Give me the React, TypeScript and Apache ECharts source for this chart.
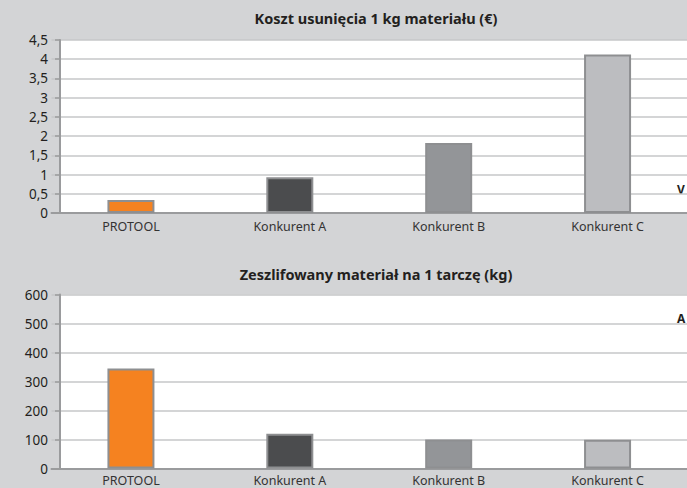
import React, { useEffect, useRef } from "react";
import * as echarts from "echarts";

const categories = ["PROTOOL", "Konkurent A", "Konkurent B", "Konkurent C"];
const costValues = [0.34, 0.93, 1.82, 4.12];
const materialValues = [345, 120, 100, 99];
const barColors = ["#f58220", "#4b4c4e", "#939598", "#bcbdc0"];
const costTitle = "Koszt usunięcia 1 kg materiału (€)";
const materialTitle = "Zeszlifowany materiał na 1 tarczę (kg)";

const FONT = "'Noto Sans', 'Liberation Sans', sans-serif";
const BG = "#d3d4d6";
const AXIS = "#9a9b9d";
const GRIDLINE = "#c6c7c9";

export default function App() {
  const ref = useRef<HTMLDivElement>(null);
  useEffect(() => {
    if (!ref.current) return;
    const chart = echarts.init(ref.current, undefined, { renderer: "svg" });
    const g1 = { top: 40, height: 173 };
    const g2 = { top: 294.5, height: 174 };
    const gridLeft = 51.5;
    const axisX = 60;
    const mkY = (idx: number, max: number, interval: number) => ({
      type: "value",
      gridIndex: idx,
      min: 0,
      max,
      interval,
      offset: gridLeft - axisX,
      axisLine: { show: true, lineStyle: { color: AXIS, width: 2 } },
      axisTick: { show: true, length: 5, lineStyle: { color: AXIS, width: 1.5 } },
      splitLine: { show: true, lineStyle: { color: GRIDLINE, width: 1.5 } },
      axisLabel: {
        margin: 12,
        color: "#231f20",
        fontFamily: FONT,
        fontSize: 13.5,
        formatter: (v: number) => String(v).replace(".", ","),
      },
    });
    const mkX = (idx: number, margin: number) => ({
      type: "category",
      gridIndex: idx,
      data: categories,
      axisLine: { show: true, lineStyle: { color: AXIS, width: 2 } },
      axisTick: { show: false },
      axisLabel: { margin, color: "#333333", fontFamily: FONT, fontSize: 12.5, interval: 0 },
    });
    const mkData = (vals: number[]) =>
      vals.map((v, i) => ({ value: v, itemStyle: { color: barColors[i] } }));
    chart.setOption({
      animation: false,
      backgroundColor: BG,
      grid: [
        { left: gridLeft, right: -16.5, top: g1.top, height: g1.height },
        { left: gridLeft, right: -16.5, top: g2.top, height: g2.height },
      ],
      xAxis: [mkX(0, 7), mkX(1, 5)],
      yAxis: [mkY(0, 4.5, 0.5), mkY(1, 600, 100)],
      series: [
        {
          type: "bar",
          xAxisIndex: 0,
          yAxisIndex: 0,
          barWidth: 47,
          itemStyle: { borderColor: "#8e8f91", borderWidth: 2 },
          data: mkData(costValues),
        },
        {
          type: "bar",
          xAxisIndex: 1,
          yAxisIndex: 1,
          barWidth: 47,
          itemStyle: { borderColor: "#8e8f91", borderWidth: 2 },
          data: mkData(materialValues),
        },
      ],
      graphic: [
        {
          type: "rect",
          z: -10,
          shape: { x: axisX, y: g1.top, width: 700, height: g1.height },
          style: { fill: "#ffffff" },
        },
        {
          type: "rect",
          z: -10,
          shape: { x: axisX, y: g2.top, width: 700, height: g2.height },
          style: { fill: "#ffffff" },
        },
        {
          type: "text",
          x: 376,
          y: 18,
          style: {
            text: costTitle,
            fill: "#231f20",
            font: `bold 14.5px ${FONT}`,
            align: "center",
            verticalAlign: "middle",
          },
        },
        {
          type: "text",
          x: 376,
          y: 274,
          style: {
            text: materialTitle,
            fill: "#231f20",
            font: `bold 14.5px ${FONT}`,
            align: "center",
            verticalAlign: "middle",
          },
        },
        {
          type: "text",
          x: 677,
          y: 183,
          style: { text: "V", fill: "#231f20", font: `bold 12px ${FONT}` },
        },
        {
          type: "text",
          x: 677,
          y: 312,
          style: { text: "A", fill: "#231f20", font: `bold 12px ${FONT}` },
        },
      ],
    });
    return () => chart.dispose();
  }, []);
  return (
    <div
      ref={ref}
      style={{ position: "absolute", left: 0, top: 0, width: 687, height: 488 }}
    />
  );
}
